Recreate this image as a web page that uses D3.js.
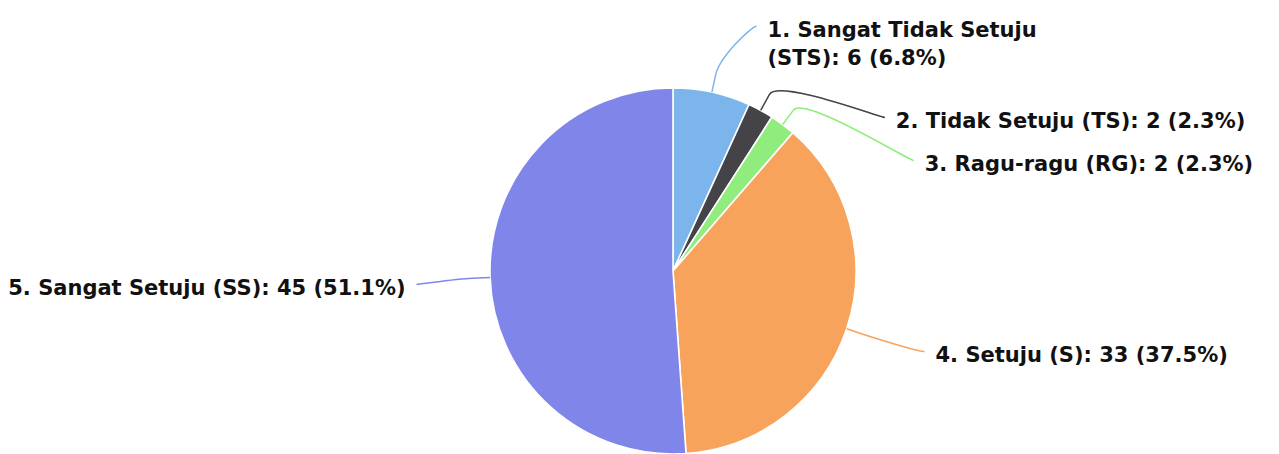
<!DOCTYPE html>
<html>
<head>
<meta charset="utf-8">
<script src="https://cdn.jsdelivr.net/npm/d3@7"></script>
<style>
html,body{margin:0;padding:0;background:#fff;overflow:hidden}
svg{display:block}
</style>
</head>
<body>
<svg id="chart" width="1279" height="454"></svg>
<script>
// ---- data ----
const categories = [
  "1. Sangat Tidak Setuju (STS)",
  "2. Tidak Setuju (TS)",
  "3. Ragu-ragu (RG)",
  "4. Setuju (S)",
  "5. Sangat Setuju (SS)"
];
const values = [6, 2, 2, 33, 45];
const colors = ["#7cb5ec", "#434348", "#90ed7d", "#f7a35c", "#8085e9"];

// ---- layout ----
const W = 1279, H = 454;
const cx = 673, cy = 271, R = 183;
const labelDistance = 50;      // from pie edge to label circle
const labelPadRight = 45;      // label text offset beyond label circle (right side)
const labelPadLeft = 35;       // (left side)
const connGap = 16;            // gap between connector end and text
const breakOffset = 18;        // connector break outside pie edge
const fontSize = 21, lineH = 28;
const wrapWidth = 430;
const fontFamily = "'DejaVu Sans', sans-serif";
// small vertical nudges from overlap-avoidance (annotation layout only)
const labelNudge = [0, 54, 79, 10, 8];

const svg = d3.select("#chart");
const total = d3.sum(values);
const arcs = d3.pie().sort(null).value(d => d)(values);
const arc = d3.arc().innerRadius(0).outerRadius(R);

const g = svg.append("g").attr("transform", `translate(${cx},${cy})`);
g.selectAll("path.slice")
  .data(arcs)
  .join("path")
  .attr("class", "slice")
  .attr("d", arc)
  .attr("fill", (d, i) => colors[i])
  .attr("stroke", "#ffffff")
  .attr("stroke-width", 1.6)
  .attr("stroke-linejoin", "round");

// measure helper
const meas = svg.append("text").attr("font-family", fontFamily)
  .attr("font-size", fontSize).attr("font-weight", "bold").attr("visibility", "hidden");
function textWidth(s) {
  meas.text(s);
  return meas.node().getComputedTextLength();
}

const labelR = R + labelDistance;
const labels = arcs.map((d, i) => {
  const mid = (d.startAngle + d.endAngle) / 2;
  const sx = Math.sin(mid), sy = -Math.cos(mid);
  const right = sx >= 0;
  const pct = (values[i] / total * 100).toFixed(1);
  const name = categories[i];
  const valueText = `: ${values[i]} (${pct}%)`;
  let lines;
  if (textWidth(name + valueText) > wrapWidth) {
    const k = name.lastIndexOf(" (");
    lines = [name.slice(0, k), name.slice(k + 1) + valueText];
  } else {
    lines = [name + valueText];
  }
  const yc = cy + labelR * sy + labelNudge[i];
  const dy = yc - cy;
  const dx = Math.sqrt(Math.max(0, labelR * labelR - dy * dy));
  const x = right ? cx + dx + labelPadRight : cx - dx - labelPadLeft;
  const firstY = yc - (lines.length - 1) * lineH / 2;
  const edge = [cx + R * sx, cy + R * sy];
  const brk = [cx + (R + breakOffset) * sx, cy + (R + breakOffset) * sy];
  const end = [right ? x - connGap : x + connGap, firstY - 3];
  return { i, right, lines, x, firstY, edge, brk, end };
});
meas.remove();

// connectors (soft)
svg.append("g").selectAll("path.conn")
  .data(labels)
  .join("path")
  .attr("class", "conn")
  .attr("fill", "none")
  .attr("stroke", d => colors[d.i])
  .attr("stroke-width", 1.5)
  .attr("d", d => {
    const p = d3.path();
    const sx0 = d.end[0] + (d.right ? 5 : -5);
    p.moveTo(sx0, d.end[1]);
    p.bezierCurveTo(d.end[0], d.end[1],
      2 * d.brk[0] - d.edge[0], 2 * d.brk[1] - d.edge[1],
      d.brk[0], d.brk[1]);
    p.lineTo(d.edge[0], d.edge[1]);
    return p.toString();
  });

// label texts
const lg = svg.append("g")
  .attr("font-family", fontFamily)
  .attr("font-size", fontSize)
  .attr("font-weight", "bold")
  .attr("fill", "#111");
labels.forEach(l => {
  const t = lg.append("text")
    .attr("text-anchor", l.right ? "start" : "end");
  l.lines.forEach((ln, j) => {
    t.append("tspan")
      .attr("x", l.x)
      .attr("y", l.firstY + j * lineH + fontSize * 0.36)
      .text(ln);
  });
});
</script>
</body>
</html>
